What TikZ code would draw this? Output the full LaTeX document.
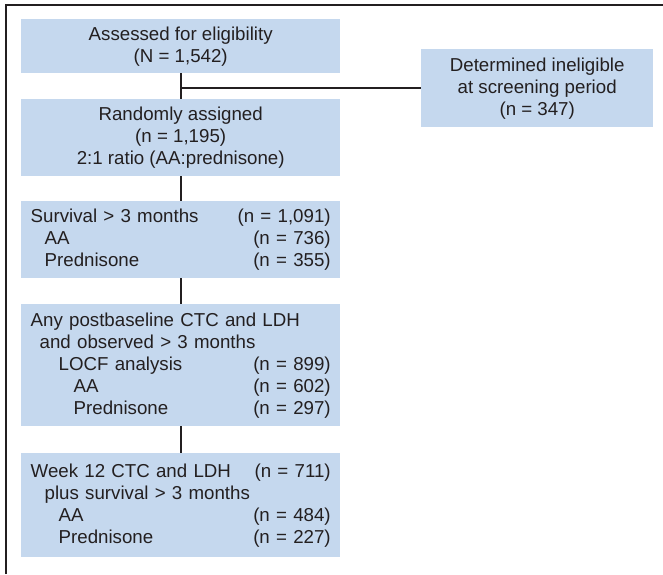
\documentclass[tikz,border=0pt]{standalone}
\usepackage{fontspec}
\setmainfont{Liberation Sans}
\usepackage{tikz}
\usetikzlibrary{positioning, calc}

\definecolor{boxblue}{RGB}{197,216,238}
\definecolor{inkgray}{RGB}{35,31,32}

\tikzset{
    flowbox/.style={fill=boxblue, text=inkgray, anchor=north west,
        inner xsep=9.5pt, inner ysep=0pt, minimum width=319pt,
        font=\fontsize{18.7}{22}\selectfont},
    countbox/.style={flowbox, text width=300pt, align=left},
    centerbox/.style={flowbox, align=center},
    link/.style={inkgray, line width=2.4pt},
    frameline/.style={inkgray, line width=1.8pt}
}

\begin{document}
\begin{tikzpicture}[x=1pt, y=-1pt]
    \def\boxleft{21}
    \def\ind{\hspace*}

    \useasboundingbox (0,0) rectangle (663,574);

    % border
    \draw[frameline] (6,574) -- (6,5) -- (663,5);

    % boxes
    \node[centerbox, minimum height=54pt] (assessed) at (\boxleft,19)
        {Assessed for eligibility\\(N = 1,542)};

    \node[centerbox, minimum height=77pt] (randomized) at (\boxleft,99)
        {Randomly assigned\\(n = 1,195)\\2:1 ratio (AA:prednisone)};

    \node[centerbox, minimum width=232pt, minimum height=78pt] (ineligible) at (421,49)
        {Determined ineligible\\at screening period\\(n = 347)};

    \node[countbox, minimum height=77pt] (survival) at (\boxleft,201)
        {Survival > 3 months\hfill(n = 1,091)\\
         \ind{14pt}AA\hfill(n = 736)\\
         \ind{14pt}Prednisone\hfill(n = 355)};

    \node[countbox, minimum height=122pt] (locf) at (\boxleft,304)
        {Any postbaseline CTC and LDH\\
         \ind{9pt}and observed > 3 months\\
         \ind{28pt}LOCF analysis\hfill(n = 899)\\
         \ind{43pt}AA\hfill(n = 602)\\
         \ind{43pt}Prednisone\hfill(n = 297)};

    \node[countbox, minimum height=104pt] (week12) at (\boxleft,453)
        {Week 12 CTC and LDH\hfill(n = 711)\\
         \ind{14pt}plus survival > 3 months\\
         \ind{28pt}AA\hfill(n = 484)\\
         \ind{28pt}Prednisone\hfill(n = 227)};

    % connectors
    \foreach \from/\to in {assessed/randomized, randomized/survival,
                           survival/locf, locf/week12}
    {
        \draw[link] (\from.south) -- (\to.north);
    }

    \coordinate (split) at (assessed.south |- ineligible.west);
    \draw[link] (split) -- (ineligible.west);
\end{tikzpicture}
\end{document}
